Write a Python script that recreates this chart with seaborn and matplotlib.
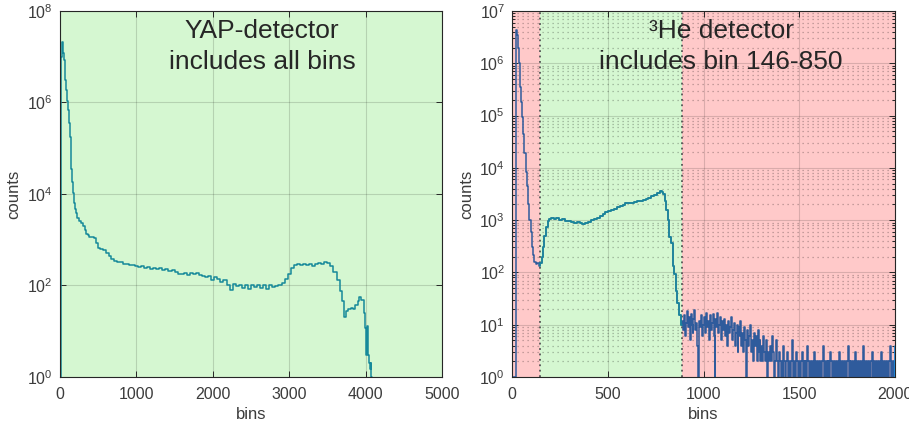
import matplotlib
matplotlib.use("Agg")
import matplotlib.pyplot as plt
import matplotlib.ticker as mticker
import pandas as pd
import seaborn as sns


# YAP detector spectrum (bin, counts)
yap_bins = [
    0, 6, 8, 20, 25, 30, 40, 50, 57, 65, 80, 95, 109, 120, 132, 144, 155, 165,
    174, 190, 205, 218, 240, 262, 284, 310, 335, 355, 371, 400, 430, 458, 480,
    502, 540, 589, 620, 650, 698,
    720, 760, 800, 840, 880, 920, 960, 1000, 1040, 1080, 1120, 1160, 1200,
    1240, 1280, 1320, 1360, 1400, 1440, 1480, 1520, 1560, 1600, 1640, 1680,
    1720, 1760, 1800, 1840, 1880, 1920, 1960, 2000, 2040, 2080, 2120, 2160,
    2200, 2240, 2280, 2320, 2360, 2400, 2440, 2480, 2520, 2560, 2600, 2640,
    2680, 2720, 2760, 2800, 2840, 2880, 2920, 2960, 3000, 3040, 3080, 3120,
    3160, 3200, 3240, 3280, 3320, 3360, 3400, 3440, 3480, 3520, 3560, 3600,
    3640, 3680, 3710, 3735, 3760, 3790, 3820, 3850, 3880, 3910, 3930, 3950,
    3970, 3985, 3995, 4005, 4015, 4025, 4035, 4040, 4050, 4060, 4070, 4080,
]
yap_counts = [
    1, 1, 8.5e6, 1.0e7, 1.8e7, 2.1e7, 2.0e7, 1.2e7, 8.5e6, 3.1e6, 1.9e6,
    1.1e6, 6.9e5, 3.5e5, 1.8e5, 7.8e4, 3.5e4, 1.8e4, 1.05e4, 6.5e3, 4.8e3,
    3.8e3, 3.0e3, 2.6e3, 2.3e3, 2.0e3, 1.6e3, 1.35e3, 1.26e3, 1.15e3, 1.12e3,
    1.07e3, 850, 650, 620, 600, 500, 440, 370,
    340, 330, 320, 290, 300, 275, 285, 260, 255, 265, 240, 250, 230, 245,
    225, 240, 215, 225, 205, 220, 195, 180, 175, 190, 170, 185, 175, 190,
    170, 160, 150, 165, 130, 150, 140, 120, 130, 105, 78, 110, 95, 105, 90,
    100, 85, 104, 92, 100, 88, 102, 85, 100, 92, 98, 100, 115, 140, 175, 240,
    280, 290, 275, 295, 285, 300, 270, 290, 305, 290, 320, 315, 270, 200,
    135, 75, 45, 20, 28, 30, 33, 30, 38, 45, 55, 48, 48, 25, 12, 4, 3, 13,
    13, 3, 2, 1.5, 2, 1,
]

# 3He detector spectrum up to the end of the window
he_bins = [
    0, 20, 22, 24, 28, 33, 38, 42, 48, 54, 60, 68, 75, 82, 88, 94, 100, 106,
    113, 120, 128, 137, 145, 151, 157, 164, 172, 181, 190, 198, 210, 224,
    240, 255, 270, 285, 300, 315, 330, 345, 360, 375, 390, 405, 420, 435,
    450, 465, 480, 495, 510, 525, 540, 555, 570, 585, 600, 615, 630, 645,
    660, 675, 690, 705, 720, 735, 750, 765, 778, 786, 795, 802, 808, 816,
    825, 834, 842, 851, 860, 868, 875, 881, 885,
]
he_counts = [
    1, 1, 3.0e6, 4.3e6, 3.5e6, 2.0e6, 1.0e6, 3.5e5, 1.8e5, 9.5e4, 4.5e4,
    1.9e4, 8.5e3, 4.4e3, 2.0e3, 1.0e3, 600, 310, 220, 160, 145, 150, 135,
    150, 200, 310, 500, 740, 950, 1050, 1080, 1050, 1100, 1020, 1050, 980,
    950, 920, 900, 920, 880, 860, 880, 920, 1000, 1070, 1120, 1200, 1300,
    1420, 1500, 1550, 1650, 1750, 1850, 1950, 2100, 2150, 2100, 2200, 2300,
    2350, 2450, 2550, 2700, 2850, 3000, 3300, 3600, 3400, 3100, 2300, 1550,
    1000, 480, 360, 130, 95, 45, 26, 15, 15.5, 10,
]

# noisy tail of the 3He spectrum, one value every 5 bins from 890 to 2000
tail_start, tail_stop, tail_step = 890, 2000, 5
tail_counts = [
    12, 8, 15, 6, 11, 18, 9, 14, 5, 16, 10, 7, 13, 19, 8, 11, 4, 1, 12, 9,
    15, 6, 10,
    14, 7, 17, 9, 12, 5, 15, 8, 11, 16, 6, 1, 13, 9, 17, 7, 10, 14, 5, 12,
    8, 13, 6, 10, 4, 12, 7, 9, 14, 5, 8, 11, 4, 7, 10, 3, 9, 6, 12, 4,
    7, 3, 9, 5, 1, 8, 4, 6, 10, 3, 5, 2, 7, 4, 6, 2, 8, 3, 5, 2,
    4, 2, 6, 3, 2, 5, 1, 3, 2, 4, 2, 6, 3, 1, 2, 5, 2, 1, 3, 2,
    1, 2, 1, 4, 2, 1, 2, 3, 1, 2, 1, 2, 5, 1, 2, 1, 3, 2, 1, 2,
    1, 2, 3, 1, 2, 1, 2, 1, 4, 2, 1, 2, 1, 2, 1, 3, 1, 2, 1, 2,
    1, 2, 1, 2, 4, 1, 2, 1, 2, 1, 2, 1, 3, 2, 1, 2, 1, 2, 1, 2,
    1, 3, 1, 2, 1, 2, 1, 2, 1, 2, 4, 1, 2, 1, 2, 1, 2, 1, 3, 1,
    2, 1, 2, 1, 2, 1, 4, 1, 2, 1, 2, 1, 2, 1, 2, 3, 1, 2, 1, 2,
    1, 2, 1, 2, 1, 3, 1, 2, 1, 2, 1, 2, 1, 2, 4, 1, 2, 1, 2, 1,
]
edge_bins = [2000, 2000]
edge_counts = [1, 4]

band_lo, band_hi = 146, 885

GREEN_BG = "#d5f7d1"
RED_BG = "#ffc9c9"
TEAL = "#16899a"
BLUE = "#2f5b9c"
TEXT = "#262626"
TICKS = "#3c3c3c"

sns.set_theme(style="ticks")
plt.rcParams["font.family"] = ["Liberation Sans", "DejaVu Sans"]
plt.rcParams["mathtext.fontset"] = "custom"
plt.rcParams["mathtext.rm"] = "Liberation Sans"

yap_df = pd.DataFrame({"bins": yap_bins, "counts": yap_counts})
tail_bins = list(range(tail_start, tail_stop + 1, tail_step))
he_df = pd.DataFrame({
    "bins": he_bins + tail_bins,
    "counts": he_counts + tail_counts,
})
band_df = he_df[(he_df["bins"] >= band_lo - 6) & (he_df["bins"] <= band_hi)]
edge_df = pd.DataFrame({"bins": edge_bins, "counts": edge_counts})

fig = plt.figure(figsize=(9.09, 4.30), dpi=100)
ax1 = fig.add_axes([0.066, 0.1233, 0.4202, 0.8512])
ax2 = fig.add_axes([0.5633, 0.1233, 0.4213, 0.8512])


def style_axes(ax):
    ax.set_axisbelow(True)
    for side in ax.spines.values():
        side.set_color(TEXT)
        side.set_linewidth(0.8)
    ax.tick_params(which="both", direction="in", top=True, right=True,
                   colors=TEXT, labelcolor=TICKS, labelsize=11.5, width=0.7)
    ax.tick_params(which="major", length=4)
    ax.tick_params(which="minor", length=2)
    ax.tick_params(axis="x", pad=7)
    ax.tick_params(axis="y", pad=5)
    ax.grid(which="major", color="black", alpha=0.15, lw=0.8)
    ax.set_xlabel("bins", fontsize=12, color=TICKS, labelpad=4)
    ax.set_ylabel("counts", fontsize=12, color=TICKS, labelpad=4)


# left: YAP detector
ax1.axvspan(0, 5000, color=GREEN_BG, zorder=0, lw=0)
sns.lineplot(data=yap_df, x="bins", y="counts", ax=ax1, color=TEAL,
             estimator=None, drawstyle="steps-mid", lw=1.1)
ax1.set_yscale("log")
ax1.set_xlim(0, 5000)
ax1.set_ylim(1, 1e8)
ax1.set_xticks([0, 1000, 2000, 3000, 4000, 5000])
ax1.yaxis.set_major_locator(mticker.FixedLocator([1, 1e2, 1e4, 1e6, 1e8]))
ax1.yaxis.set_minor_locator(mticker.NullLocator())
style_axes(ax1)
ax1.text(0.529, 0.902, "YAP-detector\nincludes all bins", transform=ax1.transAxes,
         ha="center", va="center", fontsize=19, color=TEXT, linespacing=1.38)

# right: 3He detector
ax2.axvspan(0, band_lo, color=RED_BG, zorder=0, lw=0)
ax2.axvspan(band_lo, band_hi, color=GREEN_BG, zorder=0, lw=0)
ax2.axvspan(band_hi, 2000, color=RED_BG, zorder=0, lw=0)
for edge in (band_lo, band_hi):
    ax2.axvline(edge, color="#555555", ls=(0, (1, 2)), lw=1.3, zorder=1)
sns.lineplot(data=he_df, x="bins", y="counts", ax=ax2, color=BLUE,
             estimator=None, drawstyle="steps-mid", lw=1.1)
sns.lineplot(data=band_df, x="bins", y="counts", ax=ax2, color=TEAL,
             estimator=None, drawstyle="steps-mid", lw=1.1)
sns.lineplot(data=edge_df, x="bins", y="counts", ax=ax2, color="#1e8fe6",
             estimator=None, lw=2.0)
ax2.set_yscale("log")
ax2.set_xlim(0, 2000)
ax2.set_ylim(1, 1e7)
ax2.set_xticks([0, 500, 1000, 1500, 2000])
ax2.yaxis.set_major_locator(mticker.LogLocator(base=10, numticks=10))
ax2.yaxis.set_minor_locator(mticker.LogLocator(base=10, subs=range(2, 10), numticks=20))
ax2.yaxis.set_minor_formatter(mticker.NullFormatter())
style_axes(ax2)
ax2.grid(which="minor", axis="y", color="black", alpha=0.3, lw=0.9, ls=(0, (1, 3)))
ax2.text(0.546, 0.902, "\u00b3He detector\nincludes bin 146-850", transform=ax2.transAxes,
         ha="center", va="center", fontsize=19, color=TEXT, linespacing=1.38)

fig.savefig("out.png", dpi=100)
